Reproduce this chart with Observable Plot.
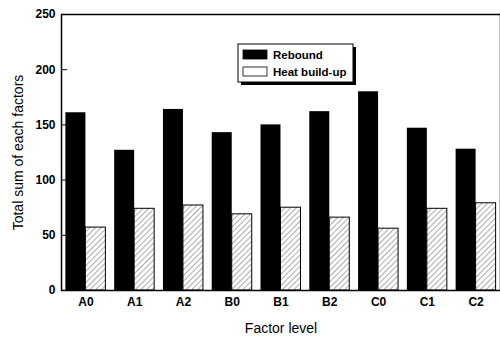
<!DOCTYPE html>
<html>
<head>
<meta charset="utf-8">
<script src="https://cdn.jsdelivr.net/npm/d3@7"></script>
<script src="https://cdn.jsdelivr.net/npm/@observablehq/plot@0.6"></script>
<style>
  html, body { margin: 0; padding: 0; background: #fff; }
  #chart { width: 500px; height: 343px; overflow: hidden; }
</style>
</head>
<body>
<div id="chart"></div>
<script>
const categories = ["A0", "A1", "A2", "B0", "B1", "B2", "C0", "C1", "C2"];
const series = ["Rebound", "Heat build-up"];
const rebound = [161, 127, 164, 143, 150, 162, 180, 147, 128];
const heat = [57, 74, 77, 69, 75, 66, 56, 74, 79];
const yTicks = [0, 50, 100, 150, 200, 250];

const reboundData = categories.map((c, i) => ({cat: c, value: rebound[i]}));
const heatData = categories.map((c, i) => ({cat: c, value: heat[i]}));

const W = 500, H = 343, ML = 61, MR = 0, MT = 14, MB = 53;
const pIn = 0.18, pOut = 0.09;
const step = (W - ML - MR) / (categories.length - pIn + 2 * pOut);
const half = step * (1 - pIn) / 2;

const font = "'Liberation Sans', Arial, Helvetica, sans-serif";

const chart = Plot.plot({
  width: W, height: H,
  marginLeft: ML, marginRight: MR, marginTop: MT, marginBottom: MB,
  style: {fontFamily: font, fontSize: "12px", color: "#000", background: "#fff"},
  x: {domain: categories, paddingInner: pIn, paddingOuter: pOut, align: 0.5, round: false},
  y: {domain: [0, 250]},
  marks: [
    Plot.barY(reboundData, {x: "cat", y: "value", fill: "#000", insetRight: half}),
    Plot.barY(heatData, {x: "cat", y: "value", fill: "#fff", stroke: "#000", strokeWidth: 1, insetLeft: half, className: "hatchbar"}),
    Plot.frame({stroke: "#000", strokeWidth: 1.5}),
    Plot.axisY({ticks: yTicks, tickSize: -6, tickPadding: 12, fontSize: 12, fontWeight: "bold",
      label: "Total sum of each factors", labelAnchor: "center", labelOffset: 48, labelArrow: "none"}),
    Plot.axisX({tickSize: 0, tickPadding: 7, fontSize: 12, fontWeight: "bold",
      label: "Factor level", labelAnchor: "center", labelOffset: 42, labelArrow: "none"})
  ]
});
document.getElementById("chart").appendChild(chart);

const svg = d3.select(chart);
// hatch pattern
const defs = svg.insert("defs", ":first-child");
const pat = defs.append("pattern")
  .attr("id", "hatch").attr("patternUnits", "userSpaceOnUse")
  .attr("width", 4).attr("height", 4)
  .attr("patternTransform", "rotate(45)");
pat.append("rect").attr("width", 4).attr("height", 4).attr("fill", "#fff");
pat.append("line").attr("x1", 0).attr("y1", 0).attr("x2", 0).attr("y2", 4)
  .attr("stroke", "#444").attr("stroke-width", 0.9);
svg.selectAll(".hatchbar rect").attr("fill", "url(#hatch)");

// axis label font size
svg.selectAll("[aria-label='y-axis label'] text, [aria-label='x-axis label'] text")
  .style("font-size", "14px").style("font-weight", "normal");

// legend
const lg = svg.append("g").attr("class", "legend").attr("text-anchor", "start");
lg.append("rect").attr("x", 241).attr("y", 47).attr("width", 115).attr("height", 38).attr("fill", "#000");
lg.append("rect").attr("x", 238).attr("y", 44).attr("width", 115).attr("height", 38)
  .attr("fill", "#fff").attr("stroke", "#000").attr("stroke-width", 1);
const entries = [
  {name: series[0], fill: "#000", y: 50},
  {name: series[1], fill: "#fff", y: 67}
];
entries.forEach(e => {
  lg.append("rect").attr("x", 243).attr("y", e.y).attr("width", 24).attr("height", 9)
    .attr("fill", e.fill).attr("stroke", "#000").attr("stroke-width", 0.8);
  lg.append("text").attr("x", 273).attr("y", e.y + 4.5).attr("dy", "0.35em")
    .attr("text-anchor", "start")
    .style("font-family", font).style("font-size", "11.5px").style("font-weight", "bold")
    .text(e.name);
});
</script>
</body>
</html>
